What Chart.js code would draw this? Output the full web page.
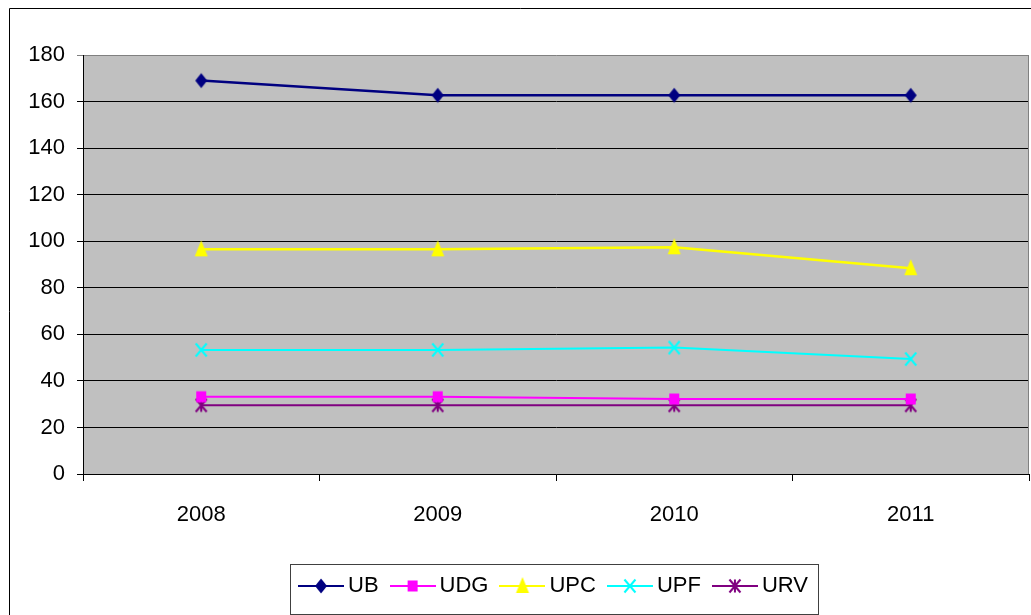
<!DOCTYPE html>
<html>
<head>
<meta charset="utf-8">
<script src="https://cdn.jsdelivr.net/npm/chart.js@4"></script>
<style>
    html, body { margin: 0; padding: 0; background: #fff; }
    #wrap { width: 1031px; height: 615px; position: relative; }
</style>
</head>
<body>
<div id="wrap"><canvas id="chart"></canvas></div>
<script>
"use strict"

const years = ['2008', '2009', '2010', '2011'];
const yTicks = [0, 20, 40, 60, 80, 100, 120, 140, 160, 180];

const seriesNames = ['UB', 'UDG', 'UPC', 'UPF', 'URV'];
const ub  = [169, 162.7, 162.7, 162.7];
const udg = [33.2, 33.2, 32.2, 32.2];
const upc = [96.5, 96.5, 97.4, 88.4];
const upf = [53.3, 53.3, 54.3, 49.4];
const urv = [29.5, 29.5, 29.5, 29.5];


const app = {
    canvasContext: document.getElementById('chart').getContext('2d'),
    font: "'Liberation Sans', Arial, sans-serif"
};


// excel style markers, drawn onto small canvases and used as point styles
function drawMarker(ctx, kind, cx, cy, color)
{
    ctx.fillStyle = color;
    ctx.strokeStyle = color;
    ctx.lineWidth = 2;
    ctx.beginPath();

    if (kind === 'diamond')
    {
        ctx.moveTo(cx, cy - 7.5);
        ctx.lineTo(cx + 6, cy);
        ctx.lineTo(cx, cy + 7.5);
        ctx.lineTo(cx - 6, cy);
        ctx.closePath();
        ctx.fill();
    }
    else if (kind === 'square')
    {
        ctx.fillRect(cx - 5, cy - 5.5, 10, 11);
    }
    else if (kind === 'triangle')
    {
        ctx.moveTo(cx, cy - 9);
        ctx.lineTo(cx + 6.5, cy + 7);
        ctx.lineTo(cx - 6.5, cy + 7);
        ctx.closePath();
        ctx.fill();
    }
    else
    {
        ctx.moveTo(cx - 5.5, cy - 6.5);
        ctx.lineTo(cx + 5.5, cy + 6.5);
        ctx.moveTo(cx + 5.5, cy - 6.5);
        ctx.lineTo(cx - 5.5, cy + 6.5);
        if (kind === 'star')
        {
            ctx.moveTo(cx, cy - 6.5);
            ctx.lineTo(cx, cy + 6.5);
        }
        ctx.stroke();
    }
}

function pointImage(kind, color)
{
    const c = document.createElement('canvas');
    c.width = 20;
    c.height = 20;
    drawMarker(c.getContext('2d'), kind, 10, 10, color);
    return c;
}

function legendImage(kind, color)
{
    const c = document.createElement('canvas');
    c.width = 46;
    c.height = 20;
    const ctx = c.getContext('2d');
    ctx.strokeStyle = color;
    ctx.lineWidth = 2;
    ctx.beginPath();
    ctx.moveTo(0, 10);
    ctx.lineTo(46, 10);
    ctx.stroke();
    drawMarker(ctx, kind, 23, 10, color);
    return c;
}


const styles =
[
    { kind: 'diamond',  color: '#000080', width: 2.5 },
    { kind: 'square',   color: '#FF00FF', width: 2 },
    { kind: 'triangle', color: '#FFFF00', width: 2.5 },
    { kind: 'cross',    color: '#00FFFF', width: 2 },
    { kind: 'star',     color: '#800080', width: 2 }
];


const frame =
{
    id: 'frame',

    afterLayout(chart)
    {
        // legend sits centred on the full (wider) excel chart
        chart.legend.left += 37;
        chart.legend.right += 37;
    },

    beforeDraw(chart)
    {
        const { ctx, chartArea: a } = chart;
        ctx.save();
        ctx.fillStyle = '#C0C0C0';
        ctx.fillRect(a.left, a.top, a.width, a.height);

        ctx.strokeStyle = '#000';
        ctx.lineWidth = 1;
        ctx.beginPath();
        ctx.moveTo(9.5, chart.height);
        ctx.lineTo(9.5, 8.5);
        ctx.lineTo(chart.width, 8.5);
        ctx.stroke();
        ctx.restore();
    },

    beforeDatasetsDraw(chart)
    {
        const { ctx, chartArea: a } = chart;
        ctx.save();
        ctx.strokeStyle = '#808080';
        ctx.lineWidth = 1;
        ctx.beginPath();
        ctx.moveTo(a.right - 0.5, a.top);
        ctx.lineTo(a.right - 0.5, a.bottom);
        ctx.stroke();
        ctx.restore();
    },

    afterDraw(chart)
    {
        const boxes = chart.legend.legendHitBoxes;
        if (!boxes || !boxes.length) return;
        const left = Math.min(...boxes.map(b => b.left));
        const right = Math.max(...boxes.map(b => b.left + b.width));
        const top = Math.min(...boxes.map(b => b.top));
        const bottom = Math.max(...boxes.map(b => b.top + b.height));
        const ctx = chart.ctx;
        ctx.save();
        ctx.strokeStyle = '#404040';
        ctx.lineWidth = 1;
        ctx.strokeRect(Math.round(left - 15) + 0.5, Math.round(top - 11) + 0.5,
                       Math.round(right - left + 25), Math.round(bottom - top + 28));
        ctx.restore();
    }
};


window.onload = () =>
{
    line();
}


function line()
{
    const values = [ub, udg, upc, upf, urv];

    const data =
    {
        labels: years,
        datasets: seriesNames.map((name, i) => ({
            label: name,
            data: values[i],
            borderColor: styles[i].color,
            backgroundColor: styles[i].color,
            borderWidth: styles[i].width,
            pointStyle: pointImage(styles[i].kind, styles[i].color),
            pointRadius: 7,
            pointHoverRadius: 7,
            tension: 0,
            fill: false
        }))
    };

    const config =
    {
        type: 'line',
        data: data,
        plugins: [frame],
        options:
        {
            responsive: true,
            maintainAspectRatio: false,
            animation: false,
            layout: { autoPadding: false, padding: { top: 55, left: 10, right: 2, bottom: 8 } },
            scales:
            {
                x:
                {
                    offset: true,
                    grid: { offset: true, drawOnChartArea: false, tickLength: 7, color: '#000' },
                    border: { color: '#000' },
                    ticks: { color: '#000', padding: 21, font: { size: 22, family: app.font } },
                    afterFit: s => { s.height = 83; }
                },
                y:
                {
                    min: 0,
                    max: 180,
                    afterBuildTicks: axis => { axis.ticks = yTicks.map(v => ({ value: v })); },
                    grid:
                    {
                        tickLength: 6,
                        color: c => (c.tick && c.tick.value === 180) ? '#808080' : '#000'
                    },
                    border: { color: '#000' },
                    ticks: { color: '#000', padding: 12, font: { size: 22, family: app.font } },
                    afterFit: s => { s.width = 73; }
                }
            },
            plugins:
            {
                tooltip: { enabled: false },
                legend:
                {
                    position: 'bottom',
                    labels:
                    {
                        usePointStyle: true,
                        pointStyleWidth: 32,
                        padding: 18,
                        color: '#000',
                        font: { size: 22, family: app.font },
                        generateLabels: chart =>
                            Chart.defaults.plugins.legend.labels.generateLabels(chart).map((item, i) =>
                                Object.assign(item, { pointStyle: legendImage(styles[i].kind, styles[i].color) }))
                    }
                }
            }
        }
    };

    var myChart = new Chart(app.canvasContext, config);
}
</script>
</body>
</html>
